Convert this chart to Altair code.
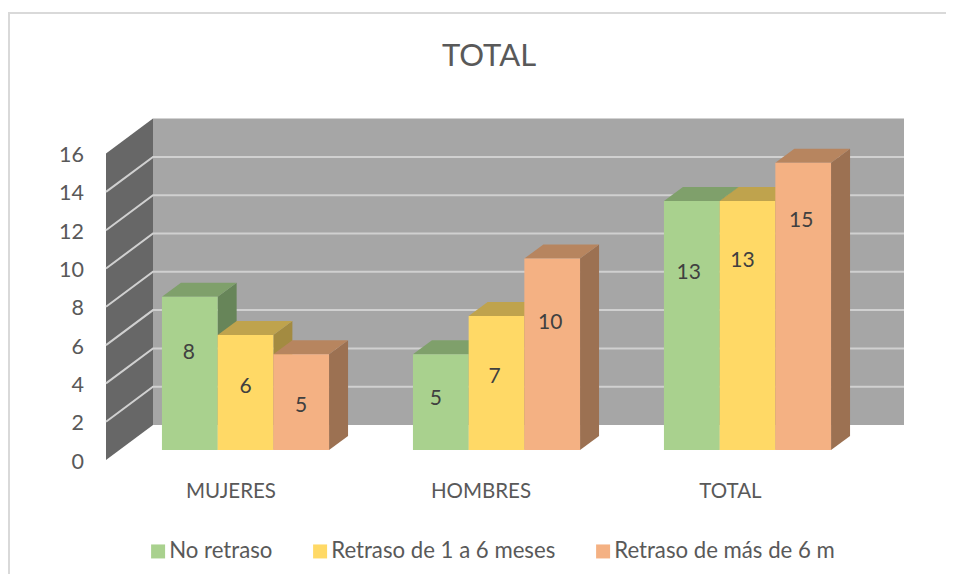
import altair as alt
import pandas as pd

categories = ["MUJERES", "HOMBRES", "TOTAL"]
series = ["No retraso", "Retraso de 1 a 6 meses", "Retraso de más de 6 m"]
no_retraso = [8, 5, 13]
retraso_1_6 = [6, 7, 13]
retraso_mas_6 = [5, 10, 15]
y_ticks = [0, 2, 4, 6, 8, 10, 12, 14, 16]
front_colors = ["#A9D18E", "#FFD966", "#F4B183"]
top_colors = ["#7FA06B", "#BFA34D", "#B7855F"]
side_colors = ["#678559", "#A38B41", "#9C7152"]
# Where Excel placed each data label inside its bar, in axis units above the base
label_heights = [[5.12, 3.39, 2.4], [2.72, 3.87, 6.73], [9.3, 9.96, 12.05]]
label_shift_x = [[-1, 0, 0], [-5, -2, -2], [-3, -5, -2]]

FONT = "Lato"
W, H = 938, 566
PX_X, PX_Y = 251.0, 19.15          # scale: pixels per category / per axis unit
BASE_PAGE_X, BASE_PAGE_Y = 245.5, 450.0   # page position of category 0 / value 0 in the bars' plane
x_domain = [(8 - BASE_PAGE_X) / PX_X, (8 + W - BASE_PAGE_X) / PX_X]
y_domain = [(BASE_PAGE_Y - 8 - H) / PX_Y, (BASE_PAGE_Y - 8) / PX_Y]

BAR_W = 55.7 / PX_X
BAR_DX, BAR_DY = 19 / PX_X, 14 / PX_Y
FRONT_SHIFT = -10 / PX_Y            # axis plane in front of the bars
BACK_SHIFT = 25 / PX_Y              # back wall behind the bars
WALL_L_FRONT = (106 - BASE_PAGE_X) / PX_X
WALL_L_BACK = (153 - BASE_PAGE_X) / PX_X
WALL_R = (904 - BASE_PAGE_X) / PX_X
LABEL_PAGE_X = [231, 481, 730.5]
AXIS_PAGE_X = 84

values = [no_retraso, retraso_1_6, retraso_mas_6]
front, side, top, labels = [], [], [], []
for c in range(len(categories)):
    for s, name in enumerate(series):
        v = values[s][c]
        L = c + (s - 1.5) * BAR_W
        R = L + BAR_W
        bar = f"{c}-{s}"
        front.append(dict(series=name, L=L, R=R, v=v, base=0))
        side.append(dict(bar=bar, shade=side_colors[s], x=R, y=v, y2=0))
        side.append(dict(bar=bar, shade=side_colors[s], x=R + BAR_DX, y=v + BAR_DY, y2=BAR_DY))
        top.append(dict(bar=bar, shade=top_colors[s], x=L, y=v, y2=v))
        top.append(dict(bar=bar, shade=top_colors[s], x=L + BAR_DX, y=v + BAR_DY, y2=v))
        top.append(dict(bar=bar, shade=top_colors[s], x=R, y=v + BAR_DY, y2=v))
        top.append(dict(bar=bar, shade=top_colors[s], x=R + BAR_DX, y=v + BAR_DY, y2=v + BAR_DY))
        labels.append(dict(x=(L + R) / 2 + label_shift_x[c][s] / PX_X, y=label_heights[c][s], t=str(v)))

front_df = pd.DataFrame(front)
side_df = pd.DataFrame(side)
top_df = pd.DataFrame(top)
label_df = pd.DataFrame(labels)

xs = alt.Scale(domain=x_domain, nice=False, zero=False)
ys = alt.Scale(domain=y_domain, nice=False, zero=False)
X = lambda f: alt.X(f, type="quantitative", scale=xs, axis=None)
Y = lambda f: alt.Y(f, type="quantitative", scale=ys, axis=None, stack=None)

# walls
y_lo, y_hi = y_ticks[0], y_ticks[-1]
back_wall = alt.Chart(pd.DataFrame([dict(x=WALL_L_BACK, x2=WALL_R, y=y_hi + BACK_SHIFT, y2=y_lo + BACK_SHIFT)])).mark_rect(
    color="#A6A6A6"
).encode(x=X("x"), x2="x2", y=Y("y"), y2="y2")
left_wall = alt.Chart(pd.DataFrame([
    dict(x=WALL_L_FRONT, y=y_hi + FRONT_SHIFT, y2=y_lo + FRONT_SHIFT),
    dict(x=WALL_L_BACK, y=y_hi + BACK_SHIFT, y2=y_lo + BACK_SHIFT),
])).mark_area(color="#676767").encode(x=X("x"), y=Y("y"), y2="y2")

grid_rows = []
for t in y_ticks[1:-1]:
    grid_rows.append(dict(t=t, o=0, x=WALL_L_FRONT, y=t + FRONT_SHIFT))
    grid_rows.append(dict(t=t, o=1, x=WALL_L_BACK, y=t + BACK_SHIFT))
    grid_rows.append(dict(t=t, o=2, x=WALL_R, y=t + BACK_SHIFT))
grid = alt.Chart(pd.DataFrame(grid_rows)).mark_line(color="#D0D0D0", strokeWidth=2).encode(
    x=X("x"), y=Y("y"), detail="t:N", order="o:Q"
)

# bars
side_layer = alt.Chart(side_df).mark_area().encode(
    x=X("x"), y=Y("y"), y2="y2", detail="bar:N", fill=alt.Fill("shade:N", scale=None)
)
top_layer = alt.Chart(top_df).mark_area().encode(
    x=X("x"), y=Y("y"), y2="y2", detail="bar:N", fill=alt.Fill("shade:N", scale=None)
)
front_layer = alt.Chart(front_df).mark_rect().encode(
    x=X("L"), x2="R", y=Y("v"), y2="base",
    color=alt.Color(
        "series:N",
        scale=alt.Scale(domain=series, range=front_colors),
        legend=alt.Legend(
            title=None, orient="none", legendX=139, legendY=532, direction="horizontal", columns=3,
            symbolType="square", symbolSize=196, symbolStrokeWidth=0, labelFont=FONT, labelFontSize=22.2,
            labelColor="#595959", columnPadding=36, labelOffset=0, symbolOffset=0, padding=0, labelLimit=400,
        ),
    ),
)
data_labels = alt.Chart(label_df).mark_text(font=FONT, fontSize=21, color="#404040", dy=1.5).encode(
    x=X("x"), y=Y("y"), text="t:N"
)

y_labels = alt.Chart(pd.DataFrame({"t": y_ticks, "y": [t + FRONT_SHIFT for t in y_ticks],
                                   "x": [(AXIS_PAGE_X - BASE_PAGE_X) / PX_X] * len(y_ticks)})).mark_text(
    font=FONT, fontSize=21.5, color="#595959", align="right", dy=2.5
).encode(x=X("x"), y=Y("y"), text="t:N")

cat_labels = alt.Chart(pd.DataFrame({"t": categories,
                                     "x": [(p - BASE_PAGE_X) / PX_X for p in LABEL_PAGE_X],
                                     "y": [(BASE_PAGE_Y - 491) / PX_Y] * 3})).mark_text(
    font=FONT, fontSize=20.5, color="#595959", dy=1
).encode(x=X("x"), y=Y("y"), text="t:N")

frame_src = pd.DataFrame({"a": [0]})
border_left = alt.Chart(frame_src).mark_rule(color="#D9D9D9", strokeWidth=2).encode(
    x=alt.value(1), y=alt.value(5), y2=alt.value(H))
border_top = alt.Chart(frame_src).mark_rule(color="#D9D9D9", strokeWidth=2).encode(
    x=alt.value(0), x2=alt.value(W), y=alt.value(5))

chart = alt.layer(
    border_left, border_top, back_wall, left_wall, grid,
    side_layer, top_layer, front_layer, data_labels, y_labels, cat_labels,
).properties(
    width=W, height=H, padding=0, autosize=alt.AutoSizeParams(type="none"),
    title=alt.Title("TOTAL", font=FONT, fontSize=31, fontWeight="normal", color="#595959",
                    anchor="middle", dx=12, offset=-65),
).configure_view(stroke=None)

chart.save("out.html", embed_options={"renderer": "svg", "actions": False})
